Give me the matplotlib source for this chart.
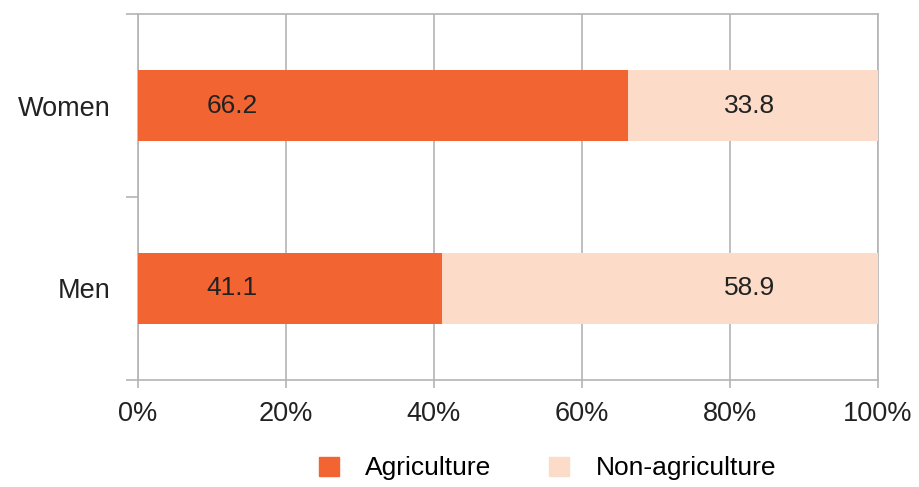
import matplotlib
matplotlib.use("Agg")
import matplotlib.pyplot as plt
from matplotlib.patches import Patch

categories = ["Men", "Women"]
agriculture = [41.1, 66.2]
non_agriculture = [58.9, 33.8]
xticks = [0, 20, 40, 60, 80, 100]
xtick_labels = ["0%", "20%", "40%", "60%", "80%", "100%"]

orange = "#F26532"
peach = "#FCDCC8"
grid_c = "#B4B4B4"
text_c = "#222222"

plt.rcParams["font.family"] = ["Liberation Sans", "DejaVu Sans"]

fig = plt.figure(figsize=(9.2, 4.87), dpi=100)
ax = fig.add_axes([0.150, 0.220, 0.804, 0.751])

ypos = [0.5, 1.5]
h = 0.39
ax.barh(ypos, agriculture, height=h, color=orange, zorder=3)
ax.barh(ypos, non_agriculture, left=agriculture, height=h, color=peach, zorder=3)

for y, a, n in zip(ypos, agriculture, non_agriculture):
    ax.text(12.7, y, f"{a:.1f}", ha="center", va="center", fontsize=19, color=text_c, zorder=4)
    ax.text(82.7, y, f"{n:.1f}", ha="center", va="center", fontsize=19, color=text_c, zorder=4)

ax.set_xlim(0, 100)
ax.set_ylim(0, 2)
ax.set_xticks(xticks)
ax.set_xticklabels(xtick_labels, fontsize=19.5, color=text_c)
ax.set_yticks([0, 1, 2])
ax.set_yticklabels([])
ax.set_yticks(ypos, minor=True)
ax.set_yticklabels(categories, minor=True, fontsize=19.5, color=text_c)
ax.tick_params(axis="y", which="minor", length=0, pad=20)
ax.tick_params(axis="y", which="major", length=9, color=grid_c, width=1.2)
ax.tick_params(axis="x", length=6, color=grid_c, width=1.2, pad=9)

ax.xaxis.grid(True, color=grid_c, linewidth=1.2, zorder=0)
ax.set_axisbelow(True)
for s in ["top", "right", "left", "bottom"]:
    ax.spines[s].set_color(grid_c)
    ax.spines[s].set_linewidth(1.2)

handles = [Patch(color=orange, label="Agriculture"), Patch(color=peach, label="Non-agriculture")]
fig.legend(handles=handles, loc="center", bbox_to_anchor=(0.595, 0.038), ncol=2, frameon=False,
           fontsize=19, handlelength=0.75, handleheight=0.75, columnspacing=2.2, handletextpad=1.0)

fig.savefig("out.png", dpi=100, facecolor="white")
